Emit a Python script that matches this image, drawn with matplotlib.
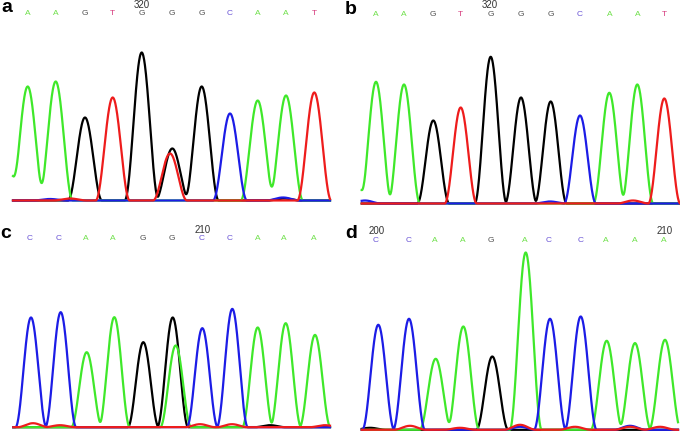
import numpy as np
import matplotlib
matplotlib.use("Agg")
import matplotlib.pyplot as plt

plt.rcParams['font.family'] = ['Liberation Sans', 'DejaVu Sans']

# ---- data: peak positions (scan px) and heights ----
# panel a
a_green_pos = [2, 27.7, 55.7, 257.7, 286]
a_green_h = [70, 114, 119, 100, 105]
a_black_pos = [85, 141.7, 172.3, 201.7, 284]
a_black_h = [83, 148, 52, 114, 2]
a_red_pos = [70, 112.7, 170, 314.3]
a_red_h = [2, 103, 47, 108]
a_blue_pos = [50, 230, 283]
a_blue_h = [1.5, 87, 3]
a_seq = list("AAGTGGGCAAT")

# panel b
b_green_pos = [350, 376, 404, 609.3, 637.3]
b_green_h = [60, 121.7, 119, 110.7, 119]
b_black_pos = [433.3, 490.7, 521, 550.7]
b_black_h = [83, 146.7, 106, 102]
b_red_pos = [460.7, 633, 664.3]
b_red_h = [96, 3, 105]
b_blue_pos = [365, 550, 580]
b_blue_h = [3, 2, 88]
b_seq = list("AAGTGGGCAAT")

# panel c
c_blue_pos = [31, 60.7, 202.3, 232.3]
c_blue_h = [109.7, 115, 99, 118.3]
c_green_pos = [86.7, 114.3, 175.7, 257.7, 285.7, 315]
c_green_h = [75, 110, 81.7, 99.7, 104, 92.3]
c_black_pos = [143.3, 172.7, 270]
c_black_h = [85, 109.7, 2]
c_red_pos = [33, 60, 200, 232, 325]
c_red_h = [4, 2, 3, 3, 2]
c_seq = list("CCAAGGCCAAA")

# panel d
d_blue_pos = [378.3, 409, 520, 550, 580.7, 630]
d_blue_h = [105, 111, 3, 111, 113.3, 4]
d_green_pos = [435.7, 463.3, 525.7, 606.7, 635, 665]
d_green_h = [71, 103.3, 177.3, 89, 86.7, 90]
d_black_pos = [492.3, 370]
d_black_h = [73.3, 2]
d_red_pos = [410, 460, 520, 575, 630, 660]
d_red_h = [4, 2, 5, 3, 3, 3]
d_seq = list("CCAAGACCAAA")
d_seq_pos = [375.7, 408.3, 434.3, 462.7, 490.7, 524.3, 549, 581, 605.7, 634.3, 664]

trace_col = {'A': '#3fe82a', 'G': '#000000', 'C': '#1c1ce6', 'T': '#ee1c1c'}
base_col = {'A': '#6ee04a', 'G': '#505050', 'C': '#6a55d6', 'T': '#d63a7c'}

W, H = 680, 436
fig = plt.figure(figsize=(6.8, 4.36), dpi=100)


def peak(x, p, h, w):
    # raised-cosine peak shape, half width w
    d = np.clip(np.abs(x - p) / w, 0, 1)
    return h * (1 + np.cos(np.pi * d)) / 2


def panel(left, right, top, base, traces, seq, seq_pos, seq_y, nums, label, label_xy, w):
    ax = fig.add_axes([left / W, 1 - base / H, (right - left) / W, (base - top) / H])
    ax.set_xlim(left, right)
    ax.set_ylim(0, base - top)
    ax.axis('off')
    x = np.linspace(left, right, 1200)
    for ch, pos, hts in traces:
        y = np.zeros_like(x) + 1.5
        for p, h in zip(pos, hts):
            y += peak(x, p, h, w)
        ax.plot(x, y, color=trace_col[ch], lw=1.6, clip_on=False, solid_joinstyle='round')
    for s, p in zip(seq, seq_pos):
        ax.text(p, base - seq_y, s, color=base_col[s], fontsize=6, ha='center', va='center')
    for txt, p, ny in nums:
        ax.text(p, base - ny, txt, color='#333333', fontsize=7, ha='center', va='center')
    fig.text(label_xy[0] / W, 1 - label_xy[1] / H, label, fontsize=14, fontweight='bold',
             ha='center', va='center')


panel(13, 330, 0, 202,
      [('G', a_black_pos, a_black_h), ('A', a_green_pos, a_green_h),
       ('C', a_blue_pos, a_blue_h), ('T', a_red_pos, a_red_h)],
      a_seq, [27.7, 55.7, 85, 112.7, 141.7, 172.3, 201.7, 230, 257.7, 286, 314.3], 13.5,
      [('320', 141.7, 5)], 'a', (7, 8), 17)

panel(361.7, 680, 0, 205,
      [('G', b_black_pos, b_black_h), ('A', b_green_pos, b_green_h),
       ('C', b_blue_pos, b_blue_h), ('T', b_red_pos, b_red_h)],
      b_seq, [376, 404, 433.3, 460.7, 490.7, 521, 550.7, 580, 609.3, 637.3, 664.3], 14,
      [('320', 490, 5)], 'b', (351, 9), 16)

panel(13.3, 330, 218, 428.7,
      [('G', c_black_pos, c_black_h), ('A', c_green_pos, c_green_h),
       ('C', c_blue_pos, c_blue_h), ('T', c_red_pos, c_red_h)],
      c_seq, [30, 59, 86, 112.7, 143.3, 172.3, 201.7, 230, 257.3, 284, 313.3], 238.7,
      [('210', 202.3, 229.7)], 'c', (6, 233), 15.5)

panel(361.7, 678, 218, 431.3,
      [('G', d_black_pos, d_black_h), ('A', d_green_pos, d_green_h),
       ('C', d_blue_pos, d_blue_h), ('T', d_red_pos, d_red_h)],
      d_seq, d_seq_pos, 240.7,
      [('200', 376.7, 230.7), ('210', 665, 230.7)], 'd', (351.5, 233), 16)

fig.savefig('out.png', dpi=100, facecolor='white')
